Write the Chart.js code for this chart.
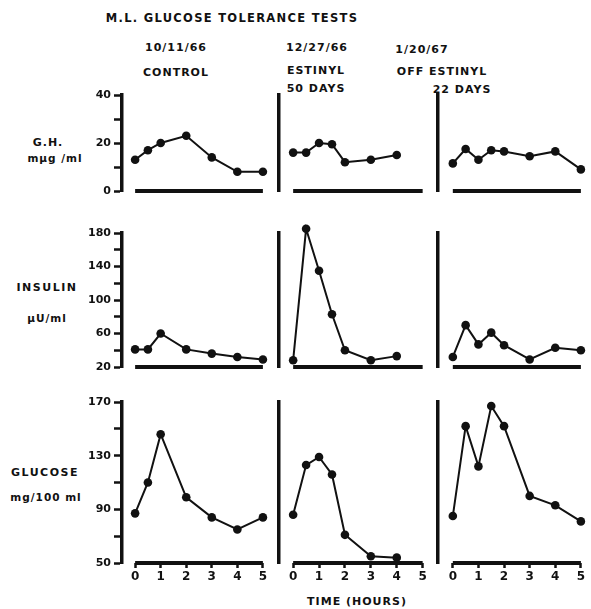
<!DOCTYPE html>
<html>
<head>
<meta charset="utf-8">
<script src="https://cdn.jsdelivr.net/npm/chart.js@4.4.1/dist/chart.umd.min.js"></script>
<style>
  body { margin: 0; background: #fff; width: 591px; height: 609px; position: relative; overflow: hidden;
         font-family: 'DejaVu Sans', sans-serif; font-weight: bold; color: #111; }
  .t { position: absolute; white-space: nowrap; transform: translate(-50%, -50%); font-size: 11px; letter-spacing: 1px; }
  canvas { position: absolute; }
</style>
</head>
<body>
<div class="t" style="left:232px;top:18px;font-size:11.5px;letter-spacing:1.3px">M.L. GLUCOSE TOLERANCE TESTS</div>
<div class="t" style="left:176px;top:47px">10/11/66</div>
<div class="t" style="left:176px;top:72px">CONTROL</div>
<div class="t" style="left:317px;top:47px">12/27/66</div>
<div class="t" style="left:316px;top:70px">ESTINYL</div>
<div class="t" style="left:316px;top:88px">50 DAYS</div>
<div class="t" style="left:422px;top:49px">1/20/67</div>
<div class="t" style="left:442px;top:71px">OFF ESTINYL</div>
<div class="t" style="left:462px;top:89px">22 DAYS</div>
<div class="t" style="left:48px;top:142px">G.H.</div>
<div class="t" style="left:55px;top:158px;font-size:10.5px">mμg /ml</div>
<div class="t" style="left:47px;top:287px;letter-spacing:1.5px">INSULIN</div>
<div class="t" style="left:47px;top:318px;font-size:10.5px">μU/ml</div>
<div class="t" style="left:45px;top:472px;letter-spacing:1.5px">GLUCOSE</div>
<div class="t" style="left:46px;top:497px;font-size:10.5px">mg/100 ml</div>
<div class="t" style="left:357px;top:601px">TIME (HOURS)</div>

<script>
// sampling times (hours) for each test
const hoursControl = [0, 0.5, 1, 2, 3, 4, 5];
const hoursEstinyl = [0, 0.5, 1, 1.5, 2, 3, 4];
const hoursOff = [0, 0.5, 1, 1.5, 2, 3, 4, 5];

// G.H. (mμg/ml)
const ghControl = [13, 17, 20, 23, 14, 8, 8];
const ghEstinyl = [16, 16, 20, 19.5, 12, 13, 15];
const ghOff = [11.5, 17.5, 13, 17, 16.5, 14.5, 16.5, 9];

// insulin (μU/ml)
const insulinControl = [41, 41, 60, 41, 36, 32, 29];
const insulinEstinyl = [28, 185, 135, 83, 40, 28, 33];
const insulinOff = [32, 70, 47, 61, 46, 29, 43, 40];

// glucose (mg/100 ml)
const glucoseControl = [87, 110, 146, 99, 84, 75, 84];
const glucoseEstinyl = [86, 123, 129, 116, 71, 55, 54];
const glucoseOff = [85, 152, 122, 167, 152, 100, 93, 81];

// axis ticks
const hourTicks = [0, 1, 2, 3, 4, 5];
const ghLabels = [0, 20, 40];
const insulinLabels = [20, 60, 100, 140, 180];
const glucoseLabels = [50, 90, 130, 170];

const INK = '#111';

// page layout of the 3x3 panels (pixels)
const rows = [
  { min: 0, max: 40, step: 10, labels: ghLabels, series: [ghControl, ghEstinyl, ghOff], top: 95, bottom: 199 },
  { min: 20, max: 180, step: 20, labels: insulinLabels, series: [insulinControl, insulinEstinyl, insulinOff], top: 233, bottom: 375 },
  { min: 50, max: 170, step: 20, labels: glucoseLabels, series: [glucoseControl, glucoseEstinyl, glucoseOff], top: 402, bottom: 563 }
];
const cols = [
  { hours: hoursControl, canvasLeft: 78, axisW: 44, x0: 135.5, x5: 267, right: 274 },
  { hours: hoursEstinyl, canvasLeft: 274, axisW: 4, x0: 293.3, x5: 426.8, right: 432 },
  { hours: hoursOff, canvasLeft: 433, axisW: 4, x0: 453, x5: 585, right: 591 }
];

rows.forEach((row, r) => {
  cols.forEach((col, c) => {
    const isBottom = r === 2;
    const padTop = 10;
    const axisH = isBottom ? 26 : 8;
    const ax = col.canvasLeft + col.axisW;
    const k = (col.x5 - col.x0) / 5;
    const xmin = (ax - col.x0) / k;
    const xmax = (col.right - col.x0) / k;

    const cv = document.createElement('canvas');
    const w = col.right - col.canvasLeft;
    const h = padTop + (row.bottom - row.top) + axisH;
    cv.width = w; cv.height = h;
    cv.style.width = w + 'px'; cv.style.height = h + 'px';
    cv.style.left = col.canvasLeft + 'px';
    cv.style.top = (row.top - padTop) + 'px';
    document.body.appendChild(cv);

    const values = row.series[c];
    const points = col.hours.map((t, i) => ({ x: t, y: values[i] }));
    const baseline = [{ x: 0, y: row.min }, { x: 5, y: row.min }];

    new Chart(cv.getContext('2d'), {
      type: 'line',
      data: {
        datasets: [
          { data: baseline, borderColor: INK, borderWidth: 4, pointRadius: 0, clip: false },
          { data: points, borderColor: INK, borderWidth: 2, tension: 0,
            pointRadius: 4.3, pointBackgroundColor: INK, pointBorderWidth: 0, clip: false }
        ]
      },
      options: {
        responsive: false,
        animation: false,
        layout: { padding: { top: padTop, bottom: isBottom ? 0 : axisH, left: 0, right: 0 } },
        plugins: { legend: { display: false }, tooltip: { enabled: false } },
        scales: {
          x: {
            type: 'linear', min: xmin, max: xmax, display: isBottom,
            afterBuildTicks: axis => { axis.ticks = hourTicks.map(v => ({ value: v })); },
            afterFit: s => { s.height = axisH; },
            border: { display: false },
            grid: { drawOnChartArea: false, drawTicks: true, tickLength: 5, tickWidth: 2.5, tickColor: INK },
            ticks: { color: INK, font: { family: 'DejaVu Sans', size: 12, weight: 'bold' }, padding: 2,
                     maxRotation: 0, autoSkip: false }
          },
          y: {
            type: 'linear', position: 'left', min: row.min, max: row.max,
            afterFit: s => { s.width = col.axisW; },
            border: { display: true, width: 3.5, color: INK },
            grid: { drawOnChartArea: false, drawTicks: c === 0, tickLength: 8, tickWidth: 2.5, tickColor: INK },
            ticks: {
              display: c === 0, stepSize: row.step, color: INK, padding: 3,
              font: { family: 'DejaVu Sans', size: 11, weight: 'bold' },
              callback: v => row.labels.includes(v) ? v : ''
            }
          }
        }
      }
    });
  });
});
</script>
</body>
</html>
